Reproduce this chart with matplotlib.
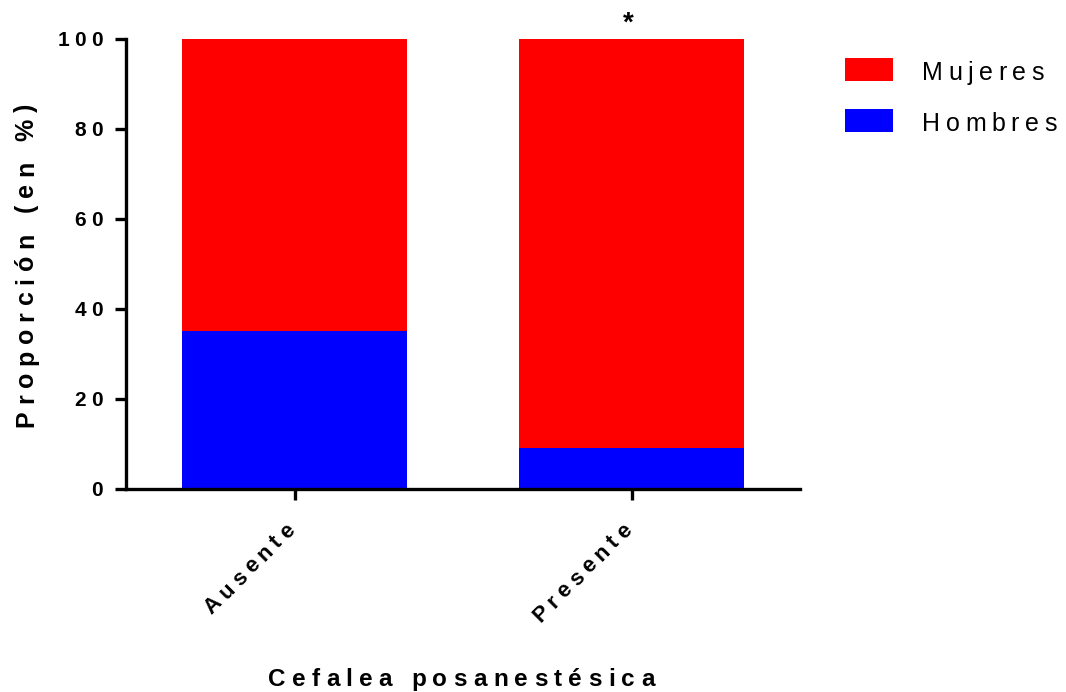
import math
import matplotlib
matplotlib.use("Agg")
import matplotlib.pyplot as plt
from matplotlib.patches import Rectangle
from matplotlib.font_manager import FontProperties, findfont, get_font
from matplotlib.transforms import offset_copy, IdentityTransform

# data
categories = ["Ausente", "Presente"]
hombres = [35.2, 9.2]
mujeres = [100 - h for h in hombres]
yticks = [0, 20, 40, 60, 80, 100]
legend_labels = ["Mujeres", "Hombres"]
RED, BLUE = "#ff0000", "#0000ff"

DPI = 100
W, H = 1066, 692
FAMILY = ["Liberation Sans", "DejaVu Sans"]
plt.rcParams["font.family"] = FAMILY

fig = plt.figure(figsize=(W / DPI, H / DPI), dpi=DPI)
ax = fig.add_axes([126 / W, 1 - 489 / H, 674 / W, 450 / H])


def spaced_text(x, y, s, transform, size, track, weight="bold", rotation=0,
                ha="left", dx=0, dy=0):
    """Draw text with extra letter spacing (tracking in em), anchored on the baseline."""
    prop = FontProperties(family=FAMILY, size=size, weight=weight)
    font = get_font(findfont(prop))
    font.set_size(size, DPI)
    adv = [font.load_char(ord(c)).linearHoriAdvance / 65536 for c in s]
    gap = track * size * DPI / 72
    total = sum(adv) + gap * (len(s) - 1)
    pos = {"left": 0, "center": -total / 2, "right": -total}[ha]
    ct, st = math.cos(math.radians(rotation)), math.sin(math.radians(rotation))
    for c, a in zip(s, adv):
        if c != " ":
            tr = offset_copy(transform, fig=fig, x=dx + pos * ct, y=dy + pos * st, units="dots")
            fig.text(x, y, c, transform=tr, fontproperties=prop, rotation=rotation,
                     rotation_mode="anchor", ha="left", va="baseline")
        pos += a + gap


x = range(len(categories))
ax.bar(x, hombres, width=0.667, color=BLUE)
ax.bar(x, mujeres, width=0.667, bottom=hombres, color=RED)

ax.set_xlim(-0.5, 1.5)
ax.set_ylim(0, 100)
ax.set_yticks(yticks)
ax.set_xticks(list(x))
ax.tick_params(labelleft=False, labelbottom=False, width=2.4, length=8)
for s in ["top", "right"]:
    ax.spines[s].set_visible(False)
for s in ["left", "bottom"]:
    ax.spines[s].set_linewidth(2.4)

# tick labels
for v in yticks:
    spaced_text(0, v, str(v), ax.get_yaxis_transform(), 15, 0.26, ha="right", dx=-23, dy=-7)
for i, c in enumerate(categories):
    spaced_text(i, 0, c, ax.get_xaxis_transform(), 16, 0.23, rotation=45, ha="right",
                dx=1, dy=-42)

# axis labels
ident = IdentityTransform()
spaced_text(461, H - 686, "Cefalea posanestésica", ident, 17.5, 0.26, ha="center")
spaced_text(33, H - 265, "Proporción (en %)", ident, 18, 0.27, rotation=90, ha="center")

# significance mark
ax.text(1, 101.8, "*", ha="center", va="baseline", fontsize=20, fontweight="bold", clip_on=False,
        transform=offset_copy(ax.transData, fig=fig, x=-3, y=0, units="dots"))

# legend
for k, (lab, col) in enumerate(zip(legend_labels, [RED, BLUE])):
    top = 58 + 51 * k
    fig.add_artist(Rectangle((845, H - top - 23), 48, 23, transform=ident, color=col, lw=0))
    spaced_text(922, H - (top + 22), lab, ident, 18, 0.22, weight="normal")

fig.savefig("out.png", dpi=DPI)
